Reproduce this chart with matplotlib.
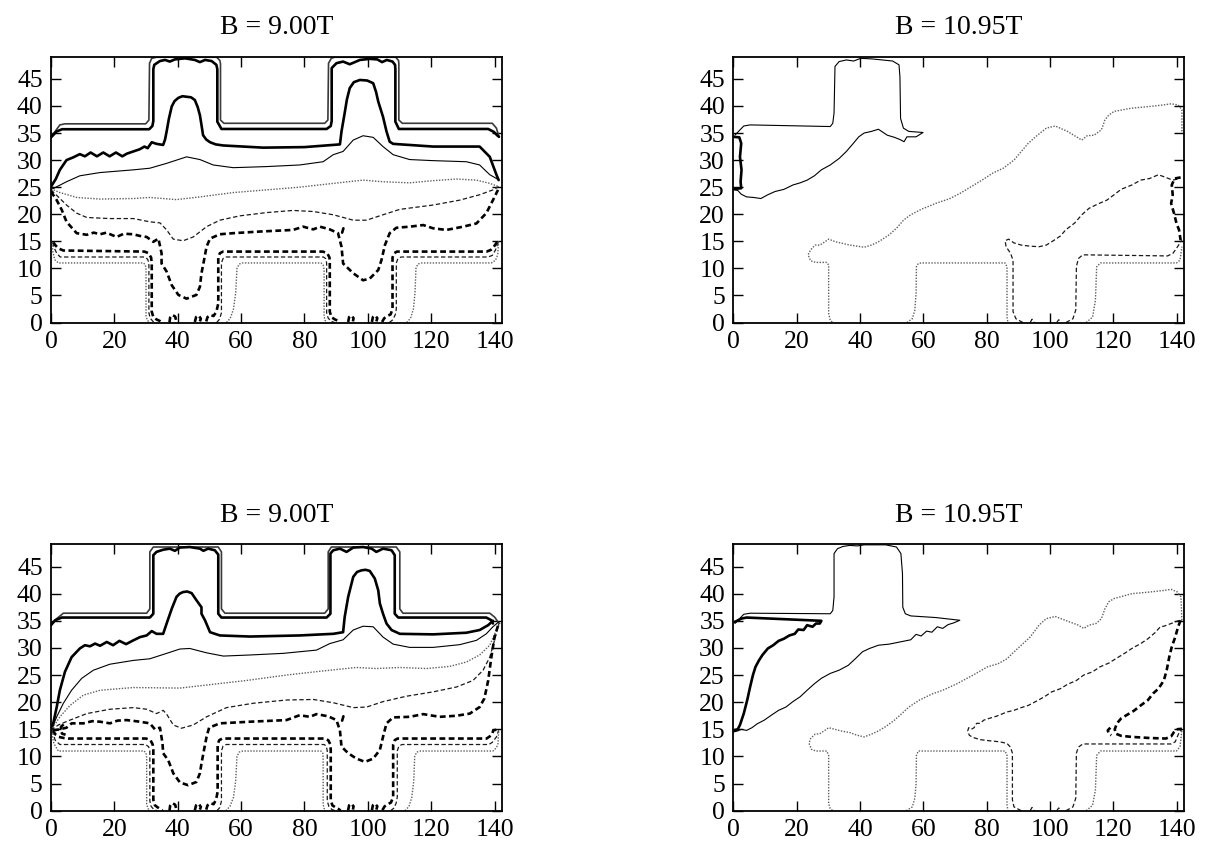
import matplotlib
matplotlib.use("Agg")
import matplotlib.pyplot as plt

plt.rcParams['font.family'] = ['Liberation Serif', 'DejaVu Serif']

titles = ["B = 9.00T", "B = 10.95T", "B = 9.00T", "B = 10.95T"]
xticks = [0, 20, 40, 60, 80, 100, 120, 140]
yticks = [0, 5, 10, 15, 20, 25, 30, 35, 40, 45]

# ---------------- top-left panel ----------------
tl_outer_x = [0.0, 1.3, 2.8, 4.4, 29.9, 30.9, 31.1, 31.8, 33.3, 52.3, 53.3, 53.5, 53.5, 54.6, 86.4, 87.4, 87.6, 88.5, 89.5, 108.8, 109.7, 109.8, 109.8, 110.9, 139.3, 140.6, 141.4]
tl_outer_y = [34.3, 35.3, 36.5, 36.7, 36.7, 37.4, 47.9, 48.8, 49.0, 49.0, 48.4, 47.8, 37.4, 36.8, 36.8, 37.4, 47.9, 48.8, 49.0, 49.0, 48.4, 47.8, 37.4, 36.8, 36.8, 35.9, 34.3]
tl_inner_x = [0.0, 1.8, 3.5, 31.0, 32.0, 32.3, 32.3, 32.6, 34.4, 36.0, 37.5, 39.1, 42.3, 45.4, 47.0, 48.6, 50.7, 52.2, 52.5, 52.5, 53.8, 87.0, 88.3, 88.6, 88.6, 90.1, 92.2, 94.3, 97.5, 100.6, 103.0, 104.5, 106.0, 107.8, 108.6, 108.7, 108.7, 109.8, 138.0, 139.8, 140.8, 141.4]
tl_inner_y = [34.2, 35.3, 35.7, 35.7, 36.3, 37.2, 46.8, 47.6, 48.3, 48.5, 48.2, 48.6, 48.8, 48.5, 48.1, 48.5, 48.3, 47.6, 46.8, 37.1, 35.75, 35.75, 36.3, 37.2, 47.0, 47.9, 48.2, 47.7, 48.5, 48.7, 48.6, 48.1, 48.5, 48.2, 47.6, 46.8, 37.1, 35.75, 35.75, 35.2, 34.6, 34.3]
tl_thick_x = [0.0, 1.5, 2.8, 4.9, 7.0, 9.1, 10.7, 12.5, 14.5, 16.5, 18.5, 20.5, 22.5, 24.0, 26.0, 28.0, 29.5, 30.5, 31.8, 33.3, 35.4, 36.0, 36.5, 37.2, 38.1, 39.0, 40.2, 41.5, 42.8, 44.2, 45.4, 46.3, 47.0, 47.5, 48.0, 49.0, 50.2, 52.0, 54.4, 67.0, 80.0, 91.2, 91.7, 92.2, 92.7, 93.4, 94.3, 95.6, 97.5, 99.8, 101.7, 102.6, 103.3, 104.8, 105.9, 106.9, 108.0, 120.6, 135.3, 138.5, 140.6, 141.3]
tl_thick_y = [25.1, 26.5, 28.2, 30.0, 30.5, 31.1, 30.7, 31.4, 30.7, 31.4, 30.7, 31.4, 30.7, 31.2, 31.6, 32.0, 32.5, 32.2, 33.3, 33.0, 32.8, 33.8, 35.3, 37.6, 39.9, 40.9, 41.5, 41.8, 41.7, 41.6, 41.1, 39.8, 38.3, 36.5, 34.6, 33.8, 33.3, 32.9, 32.7, 32.3, 32.4, 32.9, 35.3, 37.0, 38.7, 41.2, 43.3, 44.4, 44.8, 44.7, 44.2, 42.6, 40.8, 38.0, 35.3, 33.4, 33.0, 32.5, 32.5, 30.6, 27.3, 26.3]
tl_thin_x = [0.0, 0.9, 4.9, 9.1, 15.5, 26.0, 31.2, 36.5, 42.8, 47.0, 51.2, 57.5, 68.0, 78.5, 85.9, 89.1, 92.2, 95.4, 98.5, 101.7, 104.8, 108.0, 113.2, 120.6, 131.1, 135.3, 138.5, 140.6, 141.3]
tl_thin_y = [24.6, 24.8, 26.0, 27.1, 27.7, 28.2, 28.5, 29.4, 30.6, 30.1, 29.1, 28.6, 28.8, 29.1, 29.7, 31.0, 31.6, 33.7, 34.5, 34.2, 32.5, 31.0, 30.1, 29.9, 29.7, 29.1, 27.3, 26.6, 26.3]
tl_dot_x = [0.0, 2.8, 8.1, 15.5, 26.0, 31.2, 39.6, 47.0, 57.5, 68.0, 78.5, 89.1, 98.5, 104.8, 113.2, 120.6, 128.0, 134.3, 138.5, 141.3]
tl_dot_y = [24.7, 24.0, 23.1, 22.8, 22.9, 23.1, 22.7, 23.2, 24.0, 24.5, 25.0, 25.7, 26.3, 26.0, 25.8, 26.2, 26.5, 26.3, 25.7, 25.1]
tl_dash_x = [0.0, 2.3, 4.9, 8.1, 11.3, 18.6, 26.0, 31.2, 34.4, 36.5, 38.6, 41.7, 44.9, 49.1, 53.3, 59.6, 68.0, 76.4, 82.8, 89.1, 95.4, 99.6, 104.8, 110.1, 120.6, 129.0, 135.3, 139.5, 141.3]
tl_dash_y = [24.5, 23.2, 21.7, 20.2, 19.4, 19.2, 19.2, 18.6, 18.4, 17.1, 15.4, 15.1, 15.8, 17.7, 18.9, 19.7, 20.3, 20.7, 20.5, 19.9, 18.9, 18.9, 19.9, 20.9, 21.7, 22.6, 23.6, 24.5, 25.1]
tl_tdash_x = [0.0, 1.8, 3.4, 4.9, 8.1, 11.3, 13.5, 15.5, 17.5, 20.7, 23.0, 26.0, 28.0, 30.2, 32.3, 33.9, 34.9, 34.9, 36.5, 38.1, 40.2, 42.8, 45.9, 47.0, 47.5, 48.3, 49.1, 50.2, 53.3, 57.5, 65.9, 76.4, 79.6, 82.8, 84.9, 88.0, 90.6, 91.7, 92.2, 95.4, 98.5, 100.6, 103.3, 104.3, 105.4, 106.9, 109.0, 113.2, 117.5, 120.6, 124.8, 130.1, 134.3, 137.4, 139.5, 141.1]
tl_tdash_y = [24.2, 22.6, 20.8, 18.6, 16.5, 16.2, 16.6, 16.3, 16.6, 15.8, 16.4, 16.3, 16.0, 15.8, 14.9, 15.5, 12.8, 10.9, 9.4, 6.9, 5.1, 4.4, 5.1, 6.6, 9.1, 11.5, 14.0, 15.5, 16.3, 16.5, 16.8, 17.1, 17.7, 17.2, 17.7, 17.2, 16.5, 14.0, 10.9, 9.1, 7.8, 8.1, 9.7, 11.5, 14.3, 16.5, 17.5, 17.7, 18.0, 17.4, 17.1, 17.7, 18.3, 20.2, 22.6, 24.5]
tl_speck_x = [91.9, 92.3]
tl_speck_y = [16.6, 17.4]
tl_bthick1_x = [0.7, 1.5, 2.3, 3.9, 29.5, 30.8, 31.6, 31.8, 31.8, 32.3, 33.2, 34.3, 35.0]
tl_bthick1_y = [14.8, 14.2, 13.7, 13.3, 13.1, 12.8, 12.0, 11.0, 2.0, 1.0, 0.6, 0.3, 0.0]
tl_bthick2_x = [37.4, 37.6, 38.3, 39.2, 39.5, 39.0]
tl_bthick2_y = [0.0, 0.9, 1.4, 1.1, 0.4, 0.1]
tl_bthick3_x = [45.4, 45.8, 46.6, 47.3, 47.0]
tl_bthick3_y = [0.1, 1.0, 1.3, 0.7, 0.2]
tl_bthick4_x = [49.0, 49.4, 50.3, 51.3, 52.2, 52.8, 52.8, 53.3, 54.3, 55.5, 85.8, 87.2, 87.9, 88.0, 88.0, 88.5, 89.5, 90.6, 91.2]
tl_bthick4_y = [0.2, 1.0, 1.4, 1.2, 2.0, 3.5, 12.0, 12.8, 13.1, 13.1, 13.1, 12.8, 12.0, 11.0, 2.0, 1.0, 0.6, 0.3, 0.0]
tl_bthick5_x = [93.8, 94.1, 94.8, 95.5, 95.3]
tl_bthick5_y = [0.1, 1.0, 1.3, 0.8, 0.2]
tl_bthick6_x = [101.3, 101.6, 102.3, 103.0, 102.7]
tl_bthick6_y = [0.1, 1.0, 1.3, 0.8, 0.2]
tl_bthick7_x = [104.5, 105.2, 106.2, 107.2, 107.8, 107.8, 108.3, 109.2, 110.5, 137.5, 138.8, 139.8, 140.6, 141.3]
tl_bthick7_y = [0.1, 0.8, 1.2, 1.5, 2.5, 12.0, 12.8, 13.1, 13.1, 13.1, 13.4, 14.0, 14.7, 15.1]
tl_bdash1_x = [0.5, 1.0, 1.8, 2.9, 29.5, 30.5, 30.9, 30.9, 31.3, 32.2, 33.3]
tl_bdash1_y = [14.8, 13.8, 12.8, 12.1, 12.1, 11.7, 11.0, 1.8, 0.8, 0.2, 0.0]
tl_bdash2_x = [52.3, 53.2, 53.8, 53.8, 54.3, 55.3, 86.0, 86.7, 87.0, 87.0, 87.5, 88.5, 89.5]
tl_bdash2_y = [0.0, 0.6, 1.8, 11.0, 11.8, 12.1, 12.1, 11.8, 11.0, 1.8, 0.8, 0.2, 0.0]
tl_bdash3_x = [106.8, 107.9, 108.7, 109.0, 109.0, 109.5, 110.5, 138.0, 139.3, 140.3, 141.3]
tl_bdash3_y = [0.0, 0.5, 1.5, 2.5, 11.0, 11.8, 12.1, 12.1, 12.4, 13.4, 15.0]
tl_bdot1_x = [0.3, 0.6, 1.2, 2.3, 29.2, 29.8, 30.0, 30.0, 30.4, 31.2]
tl_bdot1_y = [14.8, 13.0, 11.6, 11.0, 11.0, 10.6, 9.8, 1.2, 0.4, 0.0]
tl_bdot2_x = [55.4, 56.6, 57.6, 58.3, 58.7, 59.4, 60.5, 85.2, 85.9, 86.2, 86.2, 86.5, 87.1]
tl_bdot2_y = [0.0, 0.8, 2.5, 5.5, 10.0, 10.8, 11.0, 11.0, 10.6, 9.8, 1.2, 0.4, 0.0]
tl_bdot3_x = [112.3, 113.5, 114.4, 114.9, 115.2, 115.8, 117.0, 139.0, 140.3, 141.0, 141.3]
tl_bdot3_y = [0.0, 0.8, 2.5, 5.5, 10.0, 10.8, 11.0, 11.0, 11.5, 12.5, 15.0]

# ---------------- top-right panel ----------------
tr_thin_x = [0.5, 3.3, 5.3, 30.6, 31.4, 31.8, 32.1, 33.4, 35.7, 38.0, 40.2, 43.6, 47.0, 50.3, 52.3, 52.6, 52.8, 53.7, 55.4, 59.9,
             57.7, 54.8, 53.9, 52.6, 50.9, 48.6, 45.8, 43.6, 41.3, 39.6, 37.9, 35.7, 33.4, 30.6, 27.8, 25.6, 23.3, 21.1, 18.8, 16.0, 13.2, 10.9, 8.7, 6.4, 4.2, 2.5, 1.4, 0.2]
tr_thin_y = [34.6, 36.3, 36.5, 36.2, 36.8, 38.7, 47.3, 48.2, 48.5, 48.3, 48.8, 48.7, 48.5, 48.3, 47.6, 45.4, 37.7, 35.9, 35.3, 35.1,
             34.3, 34.3, 33.4, 33.8, 34.2, 34.6, 35.7, 35.3, 35.0, 34.3, 33.1, 31.6, 30.3, 29.1, 28.2, 27.1, 26.3, 25.8, 25.4, 24.6, 24.2, 23.6, 22.9, 23.1, 23.2, 23.7, 24.4, 24.5]
tr_thick_x = [0.0, 1.9, 2.5, 2.1, 2.6, 2.3, 2.5, 0.8, 0.0]
tr_thick_y = [34.3, 34.2, 33.1, 30.6, 28.2, 26.0, 24.8, 24.7, 24.7]
tr_dot1_x = [141.6, 141.6, 140.4, 138.2, 135.9, 131.4, 125.8, 120.2, 118.5, 117.3, 116.2, 113.9, 111.7, 110.0, 108.3, 105.5, 101.6, 98.8, 95.4, 93.1, 90.9, 88.6, 85.2, 81.9, 78.5, 75.1, 71.7, 68.4, 63.9, 59.3, 56.0, 53.7, 51.5, 49.2, 45.8, 43.6, 41.3, 39.1, 36.8, 34.6, 32.3, 30.1, 28.9, 27.3, 25.8, 24.4, 23.6, 24.4, 26.1, 29.5, 30.1, 30.1, 30.6, 31.4]
tr_dot1_y = [35.3, 39.3, 40.2, 40.4, 40.2, 39.9, 39.6, 39.0, 38.3, 37.4, 35.6, 34.6, 34.5, 33.7, 34.3, 35.3, 36.3, 35.9, 34.3, 33.1, 31.6, 30.0, 28.5, 27.6, 26.3, 25.1, 23.9, 22.9, 22.0, 20.9, 19.9, 18.9, 17.4, 16.2, 14.9, 14.3, 13.9, 14.1, 14.3, 14.6, 14.9, 15.4, 14.9, 14.3, 14.3, 13.4, 12.5, 11.4, 11.1, 11.1, 10.6, 1.7, 0.4, 0.0]
tr_dot2_x = [54.8, 56.5, 57.3, 57.7, 57.8, 58.4, 59.3, 85.8, 86.4, 86.4, 86.7]
tr_dot2_y = [0.0, 0.7, 2.3, 5.4, 10.3, 10.9, 11.0, 11.0, 10.3, 1.0, 0.0]
tr_dot3_x = [111.4, 113.4, 114.3, 114.7, 115.9, 139.9, 141.0, 141.6]
tr_dot3_y = [0.0, 1.0, 4.1, 10.3, 11.0, 11.0, 11.5, 14.0]
tr_dash1_x = [91.4, 89.2, 88.3, 88.3, 87.5, 86.1, 85.8, 86.9, 88.6, 90.9, 93.7, 96.5, 98.8, 101.0, 103.3, 104.9, 107.8, 110.0, 112.3, 115.1, 117.9, 120.2, 122.4, 125.8, 128.6, 131.4, 134.2, 136.5, 138.7, 141.0]
tr_dash1_y = [0.0, 0.7, 2.0, 11.5, 12.8, 14.0, 15.1, 15.4, 14.7, 14.3, 14.1, 14.0, 14.3, 15.1, 16.0, 17.1, 18.4, 19.9, 21.1, 21.9, 22.6, 23.6, 24.6, 25.4, 26.3, 26.6, 27.3, 26.8, 26.3, 26.6]
tr_dash2_x = [93.7, 94.3, 95.0]
tr_dash2_y = [0.0, 0.6, 0.0]
tr_dash3_x = [102.1, 102.7, 103.5]
tr_dash3_y = [0.0, 0.5, 0.2]
tr_dash4_x = [105.0, 107.2, 108.1, 108.3, 108.9, 110.3, 137.1, 138.8, 139.9, 141.0, 141.6]
tr_dash4_y = [0.0, 0.7, 2.3, 10.3, 11.8, 12.5, 12.3, 12.8, 13.7, 14.7, 15.2]
tr_tdash_x = [141.2, 139.3, 138.4, 138.7, 138.2, 139.1, 139.9, 140.7, 141.2]
tr_tdash_y = [26.8, 26.6, 25.4, 23.6, 22.0, 20.2, 18.3, 17.1, 15.2]

# ---------------- bottom-left panel ----------------
bl_outer_x = [0.0, 1.8, 3.9, 30.2, 31.2, 31.2, 32.3, 52.8, 53.8, 53.8, 54.9, 86.4, 87.5, 87.5, 88.5, 109.0, 110.1, 110.1, 111.1, 138.5, 140.0, 141.1, 141.6]
bl_outer_y = [34.2, 35.4, 36.4, 36.4, 37.2, 47.7, 48.6, 48.6, 47.7, 37.2, 36.4, 36.4, 37.2, 47.7, 48.6, 48.6, 47.7, 37.2, 36.4, 36.4, 35.7, 34.8, 34.5]
bl_inner_x = [0.0, 1.3, 3.4, 31.2, 32.3, 32.3, 33.3, 35.4, 37.5, 39.1, 40.7, 43.8, 47.0, 48.1, 49.6, 51.7, 52.8, 52.8, 53.8, 87.0, 88.2, 88.2, 89.1, 91.2, 93.3, 95.4, 98.5, 101.2, 102.7, 104.8, 107.5, 108.5, 108.5, 109.6, 137.4, 139.0, 139.5]
bl_inner_y = [34.2, 35.1, 35.6, 35.6, 36.3, 47.1, 47.7, 48.1, 48.3, 47.9, 48.5, 48.6, 48.3, 47.9, 48.3, 48.0, 47.2, 36.3, 35.6, 35.6, 36.3, 47.4, 48.0, 48.3, 47.7, 48.5, 48.6, 48.3, 47.7, 48.3, 48.0, 47.1, 36.3, 35.6, 35.6, 35.1, 34.5]
bl_thick_x = [0.0, 0.7, 1.8, 2.8, 4.4, 6.5, 9.1, 10.7, 12.3, 13.9, 15.5, 17.6, 19.6, 21.6, 23.7, 26.0, 28.1, 30.2, 31.8, 33.3, 35.4, 36.5, 38.1, 39.6, 40.6, 41.7, 43.0, 44.4, 45.9, 47.5, 47.5, 48.6, 50.2, 53.3, 62.8, 78.5, 89.1, 92.2, 92.7, 93.8, 95.4, 96.6, 98.0, 99.3, 100.6, 102.2, 103.3, 103.8, 104.8, 105.9, 107.5, 110.1, 120.6, 131.1, 135.3, 138.0, 139.5]
bl_thick_y = [14.8, 16.1, 19.1, 22.2, 25.6, 28.3, 29.9, 30.5, 30.3, 30.8, 30.4, 31.1, 30.5, 31.3, 30.7, 31.4, 32.0, 32.3, 33.1, 32.6, 32.6, 34.5, 37.2, 39.4, 40.0, 40.3, 40.4, 40.1, 38.8, 37.5, 36.3, 35.1, 32.9, 32.3, 32.1, 32.3, 32.6, 32.9, 35.7, 39.4, 43.1, 44.0, 44.3, 44.4, 44.2, 42.8, 40.6, 38.2, 36.3, 34.5, 33.3, 32.6, 32.5, 32.8, 33.3, 34.2, 35.0]
bl_thin_x = [0.0, 1.8, 3.9, 6.5, 9.7, 13.4, 18.6, 26.0, 31.2, 36.5, 40.7, 43.8, 49.1, 54.4, 62.8, 73.3, 83.8, 88.0, 92.2, 95.4, 98.5, 101.7, 104.8, 108.0, 113.2, 120.6, 129.0, 134.3, 137.4, 139.5, 141.3]
bl_thin_y = [14.8, 17.3, 19.8, 22.2, 24.4, 25.9, 27.0, 27.7, 28.0, 29.0, 29.8, 29.9, 29.1, 28.5, 28.7, 29.0, 29.6, 30.8, 31.5, 33.3, 34.0, 33.9, 32.0, 30.7, 30.1, 30.1, 30.6, 31.4, 32.6, 33.9, 34.8]
bl_dot_x = [0.0, 2.8, 6.0, 10.2, 15.5, 26.0, 40.7, 51.2, 61.7, 74.3, 84.9, 96.4, 102.7, 110.1, 118.5, 125.9, 131.1, 135.3, 138.5, 140.6, 141.6]
bl_dot_y = [14.8, 17.3, 19.4, 21.3, 22.2, 22.7, 22.6, 23.3, 24.0, 25.0, 25.7, 26.4, 26.2, 26.4, 26.2, 26.6, 27.4, 28.7, 30.5, 33.3, 34.5]
bl_dash_x = [0.0, 2.3, 6.0, 11.3, 18.6, 26.0, 30.2, 33.3, 34.4, 35.4, 36.5, 38.6, 41.2, 44.9, 49.1, 55.4, 63.8, 74.3, 82.8, 89.1, 95.4, 99.6, 104.8, 112.2, 120.6, 128.0, 133.2, 136.4, 138.5, 140.0, 141.3]
bl_dash_y = [14.8, 15.8, 16.7, 17.9, 18.7, 19.0, 18.7, 17.9, 18.2, 18.5, 17.8, 15.8, 15.2, 15.8, 17.3, 19.0, 19.8, 20.4, 20.5, 19.9, 19.0, 19.1, 20.1, 21.1, 21.9, 22.8, 24.0, 25.9, 28.3, 31.4, 34.5]
bl_tdash_x = [0.7, 2.8, 4.9, 6.5, 10.2, 13.0, 15.5, 18.6, 21.0, 23.9, 28.1, 31.2, 32.8, 34.4, 35.2, 35.4, 37.0, 38.6, 40.7, 43.3, 45.9, 47.0, 47.5, 48.3, 49.1, 49.9, 53.3, 62.8, 74.3, 78.5, 81.7, 83.8, 87.5, 90.1, 91.2, 91.7, 93.8, 96.4, 99.1, 101.7, 103.8, 104.8, 105.9, 108.0, 113.2, 117.5, 122.7, 128.0, 132.2, 135.3, 136.8, 138.0, 139.0, 140.0, 141.3]
bl_tdash_y = [14.8, 15.0, 15.3, 16.1, 16.1, 16.5, 16.4, 16.1, 16.6, 16.7, 16.4, 16.1, 15.0, 15.3, 12.4, 10.6, 9.3, 6.9, 5.2, 4.7, 5.3, 6.9, 8.7, 11.2, 13.6, 15.3, 16.1, 16.4, 16.7, 17.6, 17.3, 17.8, 17.4, 16.7, 14.8, 11.8, 10.6, 9.6, 9.0, 9.6, 11.2, 13.6, 16.1, 17.2, 17.3, 17.8, 17.3, 17.5, 17.9, 19.1, 20.7, 24.0, 28.3, 32.0, 34.5]
bl_speck_x = [91.9, 92.3]
bl_speck_y = [16.6, 17.4]
bl_curl_x = [4.0, 3.2, 3.0, 3.5, 4.6]
bl_curl_y = [15.9, 15.5, 14.8, 14.2, 14.0]
bl_bthick1_x = [0.5, 1.5, 2.5, 4.0, 5.5, 30.0, 31.4, 32.1, 32.3, 32.3, 32.8, 33.7, 34.6, 35.2]
bl_bthick1_y = [14.8, 14.0, 13.6, 13.4, 13.3, 13.3, 13.0, 12.2, 11.2, 2.0, 1.0, 0.6, 0.3, 0.0]
bl_bthick2_x = [37.4, 37.6, 38.3, 39.2, 39.5, 39.0]
bl_bthick2_y = [0.0, 0.9, 1.4, 1.1, 0.4, 0.1]
bl_bthick3_x = [45.4, 45.8, 46.6, 47.3, 47.0]
bl_bthick3_y = [0.1, 1.0, 1.3, 0.7, 0.2]
bl_bthick4_x = [49.0, 49.4, 50.3, 51.3, 52.1, 52.6, 52.6, 53.1, 54.1, 55.3, 86.1, 87.5, 88.2, 88.3, 88.3, 88.8, 89.8, 90.8, 91.4]
bl_bthick4_y = [0.2, 1.0, 1.4, 1.2, 2.0, 3.5, 12.2, 13.0, 13.3, 13.3, 13.3, 13.0, 12.2, 11.2, 2.0, 1.0, 0.6, 0.3, 0.0]
bl_bthick5_x = [93.8, 94.1, 94.8, 95.5, 95.3]
bl_bthick5_y = [0.1, 1.0, 1.3, 0.8, 0.2]
bl_bthick6_x = [101.3, 101.6, 102.3, 103.0, 102.7]
bl_bthick6_y = [0.1, 1.0, 1.3, 0.8, 0.2]
bl_bthick7_x = [104.6, 105.3, 106.3, 107.3, 108.0, 108.0, 108.5, 109.4, 110.7, 137.5, 138.5, 139.3, 139.6, 141.3]
bl_bthick7_y = [0.1, 0.8, 1.2, 1.5, 2.5, 12.2, 13.0, 13.3, 13.3, 13.3, 13.7, 14.2, 14.8, 15.0]
bl_bdash1_x = [0.4, 0.8, 1.3, 2.8, 29.8, 30.8, 31.2, 31.2, 31.6, 32.5, 33.5]
bl_bdash1_y = [14.8, 14.0, 13.0, 12.2, 12.2, 11.8, 11.0, 1.8, 0.8, 0.2, 0.0]
bl_bdash2_x = [52.4, 53.3, 53.8, 53.8, 54.3, 55.3, 86.2, 86.9, 87.2, 87.2, 87.7, 88.7, 89.7]
bl_bdash2_y = [0.0, 0.6, 1.8, 11.0, 11.9, 12.2, 12.2, 11.9, 11.0, 1.8, 0.8, 0.2, 0.0]
bl_bdash3_x = [107.2, 108.3, 109.0, 109.3, 109.3, 109.8, 110.8, 138.2, 139.3, 140.6, 141.3]
bl_bdash3_y = [0.0, 0.5, 1.5, 2.5, 11.0, 11.9, 12.2, 12.2, 12.6, 13.6, 14.8]
bl_bdot1_x = [0.2, 0.5, 0.9, 2.3, 29.4, 30.0, 30.2, 30.2, 30.6, 31.4]
bl_bdot1_y = [14.8, 13.6, 12.4, 11.0, 11.0, 10.6, 9.8, 1.2, 0.4, 0.0]
bl_bdot2_x = [55.2, 56.5, 57.6, 58.3, 58.7, 59.4, 60.5, 85.2, 85.8, 85.9, 85.9, 86.2, 86.8]
bl_bdot2_y = [0.0, 0.8, 2.5, 5.5, 10.0, 10.8, 11.0, 11.0, 10.6, 9.8, 1.2, 0.4, 0.0]
bl_bdot3_x = [111.8, 113.0, 113.9, 114.5, 114.8, 115.4, 116.6, 139.5, 140.6, 141.1, 141.3]
bl_bdot3_y = [0.0, 0.8, 2.5, 5.5, 10.0, 10.8, 11.0, 11.0, 11.6, 12.4, 14.8]

# ---------------- bottom-right panel ----------------
br_thin_x = [0.5, 3.3, 5.3, 30.6, 31.4, 31.8, 31.8, 32.9, 34.6, 36.8, 39.1, 41.3, 48.1, 51.5, 52.9, 53.4, 53.5, 54.3, 56.0, 63.9, 71.5,
             69.5, 67.8, 66.1, 64.4, 62.7, 61.0, 59.3, 57.7, 56.0, 52.6, 49.2, 45.8, 43.0, 40.8, 38.5, 36.3, 33.4, 30.6, 27.8, 25.6, 23.3, 21.1, 18.8, 16.6, 14.3, 12.0, 9.8, 7.5, 5.9, 4.2, 2.5, 1.4, 0.0]
br_thin_y = [34.5, 36.2, 36.4, 36.3, 36.9, 39.4, 47.4, 48.3, 48.7, 48.9, 48.8, 49.0, 49.0, 48.6, 47.4, 43.7, 37.5, 36.3, 35.9, 35.6, 35.1,
             34.6, 34.3, 33.6, 33.9, 32.9, 33.1, 32.2, 32.5, 31.5, 31.1, 30.7, 30.5, 29.9, 29.3, 28.0, 26.8, 25.9, 25.3, 24.4, 23.4, 22.2, 21.0, 20.1, 19.1, 18.5, 17.6, 16.7, 16.0, 15.3, 14.8, 15.0, 14.7, 14.5]
br_thick_x = [0.5, 2.5, 4.2, 27.8, 27.3, 26.1, 25.0, 23.3, 22.2, 20.5, 19.4, 17.7, 16.0, 14.3, 12.6, 10.9, 9.2, 8.1, 7.0, 6.2, 5.3, 4.4, 3.3, 2.1, 1.4, 0.0]
br_thick_y = [34.8, 35.4, 35.6, 35.0, 34.5, 34.5, 33.9, 34.2, 33.3, 33.4, 32.6, 32.3, 31.7, 31.3, 30.5, 29.9, 28.7, 27.7, 26.5, 25.0, 22.8, 20.4, 17.9, 15.8, 15.0, 14.8]
br_dot1_x = [141.6, 141.3, 140.2, 138.2, 135.9, 131.4, 125.8, 120.2, 118.5, 117.3, 116.2, 114.5, 112.3, 110.6, 108.9, 106.1, 101.6, 98.8, 96.5, 93.7, 90.9, 88.1, 86.4, 83.6, 80.2, 75.7, 70.6, 66.1, 62.7, 58.8, 55.4, 53.2, 50.9, 48.1, 45.8, 43.6, 41.3, 39.1, 36.8, 34.0, 30.1, 28.9, 27.3, 25.8, 24.4, 23.9, 24.7, 26.1, 29.5, 30.1, 30.1, 30.6, 31.4]
br_dot1_y = [35.1, 39.4, 40.3, 40.8, 40.6, 40.3, 40.0, 39.1, 38.5, 37.2, 35.4, 34.5, 34.2, 33.6, 34.2, 34.8, 35.8, 35.4, 34.2, 32.0, 30.5, 29.0, 28.0, 27.1, 26.5, 25.0, 23.4, 22.2, 21.5, 20.4, 19.1, 17.9, 16.7, 15.5, 14.7, 14.1, 13.6, 13.9, 14.4, 14.7, 15.3, 14.8, 14.2, 14.1, 13.3, 12.4, 11.3, 11.0, 11.0, 10.2, 1.3, 0.4, 0.0]
br_dot2_x = [54.6, 56.5, 57.3, 57.7, 57.8, 58.4, 59.3, 85.8, 86.4, 86.4, 86.7]
br_dot2_y = [0.0, 0.7, 2.3, 5.0, 10.2, 11.0, 11.0, 11.0, 10.2, 1.0, 0.0]
br_dot3_x = [111.4, 113.4, 114.3, 114.7, 115.9, 139.9, 141.0, 141.6]
br_dot3_y = [0.0, 1.0, 3.8, 10.2, 11.0, 11.0, 11.8, 14.8]
br_dash1_x = [90.9, 88.6, 88.1, 88.1, 87.5, 86.4, 84.1, 80.7, 77.9, 75.7, 74.5, 74.0, 74.3, 75.1, 76.0, 76.8, 77.9, 79.1, 80.7, 83.0, 86.4, 88.6, 90.9, 93.1, 95.4, 98.2, 100.5, 103.3, 105.5, 108.3, 110.6, 113.4, 115.7, 118.5, 120.7, 123.5, 125.8, 128.6, 130.9, 133.1, 134.8, 135.9, 138.2, 140.4, 141.6]
br_dash1_y = [0.0, 0.7, 2.0, 10.6, 11.7, 12.4, 12.7, 12.9, 13.1, 13.5, 13.9, 14.7, 15.3, 15.0, 15.3, 16.1, 16.1, 16.7, 17.0, 17.4, 18.2, 18.5, 19.0, 19.4, 20.1, 21.0, 21.9, 22.5, 23.3, 24.0, 25.0, 25.6, 26.5, 27.2, 28.0, 29.0, 29.9, 30.8, 31.7, 32.8, 33.9, 34.0, 34.5, 35.0, 35.1]
br_dash2_x = [93.7, 94.3, 95.0]
br_dash2_y = [0.0, 0.6, 0.0]
br_dash3_x = [102.1, 102.7, 103.5]
br_dash3_y = [0.0, 0.5, 0.2]
br_dash4_x = [105.0, 107.2, 108.1, 108.3, 108.9, 110.3, 138.2, 139.5, 140.2, 140.8, 141.6]
br_dash4_y = [0.0, 0.7, 2.3, 10.6, 11.7, 12.3, 12.3, 12.7, 13.7, 14.5, 15.0]
br_tdash_x = [141.2, 140.4, 139.5, 138.4, 137.6, 136.8, 135.9, 134.2, 132.5, 130.9, 128.6, 126.4, 124.1, 122.4, 121.1, 120.4, 120.7, 122.4, 125.8, 131.4, 136.5, 138.2, 139.1, 139.9, 141.6]
br_tdash_y = [35.1, 33.9, 32.0, 30.2, 28.3, 25.9, 24.0, 22.5, 21.6, 20.4, 19.4, 18.4, 17.6, 17.0, 16.1, 15.0, 14.2, 13.8, 13.6, 13.4, 13.3, 13.7, 14.5, 15.0, 15.1]
br_curl_x = [119.0, 118.2, 118.5, 119.3]
br_curl_y = [15.3, 14.8, 14.2, 13.9]

STY = {
    'outer': dict(color='#3a3a3a', lw=1.2, ls='-'),
    'thick': dict(color='black', lw=1.9, ls='-'),
    'thin': dict(color='black', lw=0.8, ls='-'),
    'dot': dict(color='#5e5e5e', lw=1.0, ls=(0, (1, 1.1))),
    'dash': dict(color='#1a1a1a', lw=0.9, ls=(0, (3.5, 2))),
    'tdash': dict(color='black', lw=1.9, ls=(0, (2.2, 1.3))),
}

panels = [
    [(tl_outer_x, tl_outer_y, 'outer'), (tl_inner_x, tl_inner_y, 'thick'), (tl_thick_x, tl_thick_y, 'thick'),
     (tl_thin_x, tl_thin_y, 'thin'), (tl_dot_x, tl_dot_y, 'dot'), (tl_dash_x, tl_dash_y, 'dash'),
     (tl_tdash_x, tl_tdash_y, 'tdash'), (tl_speck_x, tl_speck_y, 'thick'),
     (tl_bthick1_x, tl_bthick1_y, 'tdash'), (tl_bthick2_x, tl_bthick2_y, 'tdash'), (tl_bthick3_x, tl_bthick3_y, 'tdash'),
     (tl_bthick4_x, tl_bthick4_y, 'tdash'), (tl_bthick5_x, tl_bthick5_y, 'tdash'), (tl_bthick6_x, tl_bthick6_y, 'tdash'),
     (tl_bthick7_x, tl_bthick7_y, 'tdash'),
     (tl_bdash1_x, tl_bdash1_y, 'dash'), (tl_bdash2_x, tl_bdash2_y, 'dash'), (tl_bdash3_x, tl_bdash3_y, 'dash'),
     (tl_bdot1_x, tl_bdot1_y, 'dot'), (tl_bdot2_x, tl_bdot2_y, 'dot'), (tl_bdot3_x, tl_bdot3_y, 'dot')],
    [(tr_thin_x, tr_thin_y, 'thin'), (tr_thick_x, tr_thick_y, 'thick'),
     (tr_dot1_x, tr_dot1_y, 'dot'), (tr_dot2_x, tr_dot2_y, 'dot'), (tr_dot3_x, tr_dot3_y, 'dot'),
     (tr_dash1_x, tr_dash1_y, 'dash'), (tr_dash2_x, tr_dash2_y, 'dash'), (tr_dash3_x, tr_dash3_y, 'dash'),
     (tr_dash4_x, tr_dash4_y, 'dash'), (tr_tdash_x, tr_tdash_y, 'tdash')],
    [(bl_outer_x, bl_outer_y, 'outer'), (bl_inner_x, bl_inner_y, 'thick'), (bl_thick_x, bl_thick_y, 'thick'),
     (bl_thin_x, bl_thin_y, 'thin'), (bl_dot_x, bl_dot_y, 'dot'), (bl_dash_x, bl_dash_y, 'dash'),
     (bl_tdash_x, bl_tdash_y, 'tdash'), (bl_speck_x, bl_speck_y, 'thick'), (bl_curl_x, bl_curl_y, 'tdash'),
     (bl_bthick1_x, bl_bthick1_y, 'tdash'), (bl_bthick2_x, bl_bthick2_y, 'tdash'), (bl_bthick3_x, bl_bthick3_y, 'tdash'),
     (bl_bthick4_x, bl_bthick4_y, 'tdash'), (bl_bthick5_x, bl_bthick5_y, 'tdash'), (bl_bthick6_x, bl_bthick6_y, 'tdash'),
     (bl_bthick7_x, bl_bthick7_y, 'tdash'),
     (bl_bdash1_x, bl_bdash1_y, 'dash'), (bl_bdash2_x, bl_bdash2_y, 'dash'), (bl_bdash3_x, bl_bdash3_y, 'dash'),
     (bl_bdot1_x, bl_bdot1_y, 'dot'), (bl_bdot2_x, bl_bdot2_y, 'dot'), (bl_bdot3_x, bl_bdot3_y, 'dot')],
    [(br_thin_x, br_thin_y, 'thin'), (br_thick_x, br_thick_y, 'thick'),
     (br_dot1_x, br_dot1_y, 'dot'), (br_dot2_x, br_dot2_y, 'dot'), (br_dot3_x, br_dot3_y, 'dot'),
     (br_dash1_x, br_dash1_y, 'dash'), (br_dash2_x, br_dash2_y, 'dash'), (br_dash3_x, br_dash3_y, 'dash'),
     (br_dash4_x, br_dash4_y, 'dash'), (br_tdash_x, br_tdash_y, 'tdash'), (br_curl_x, br_curl_y, 'tdash')],
]

W, H = 1210, 855
fig = plt.figure(figsize=(W / 100, H / 100), dpi=100)
boxes = [(51, 56.7, 450.5, 265.8), (733.3, 56.7, 450.5, 265.8),
         (51, 544.3, 450.5, 266.4), (733.3, 544.3, 450.5, 266.4)]

for i, (l, t, w, h) in enumerate(boxes):
    ax = fig.add_axes([l / W, 1 - (t + h) / H, w / W, h / H])
    for xs, ys, key in panels[i]:
        ax.plot(xs, ys, solid_capstyle='round', solid_joinstyle='round', dash_capstyle='butt', **STY[key])
    ax.set_xlim(0, 142.2)
    ax.set_ylim(0, 49.1)
    ax.set_xticks(xticks)
    ax.set_yticks(yticks)
    ax.tick_params(direction='in', length=7, width=1.0, top=True, right=True,
                   labelsize=18.5, pad=6, colors='black')
    for s in ax.spines.values():
        s.set_linewidth(1.3)
    ax.set_title(titles[i], fontsize=20, pad=16)

fig.savefig("out.png", dpi=100)
